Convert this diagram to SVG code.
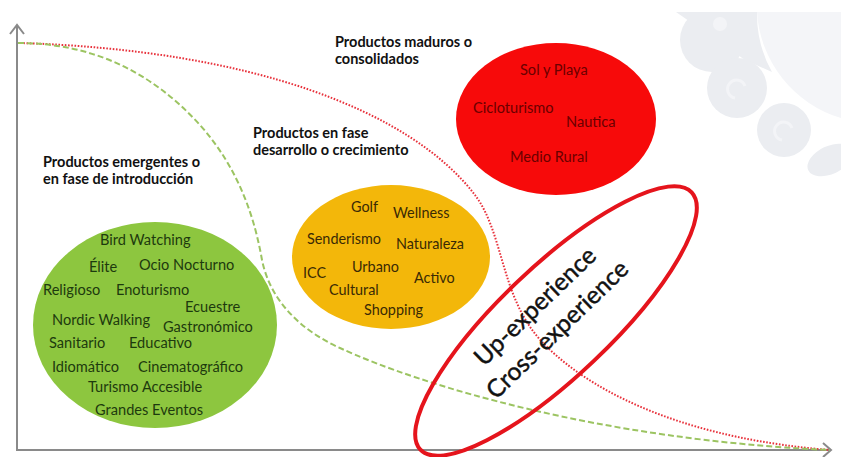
<svg xmlns="http://www.w3.org/2000/svg" width="841" height="457" viewBox="0 0 841 457">
<defs>
<style>
text{font-family:Lato,"Open Sans","Liberation Sans",sans-serif}
.title{font-size:14.5px;font-weight:bold;fill:#111}
.tg{font-size:14.6px;fill:#1d3a0e}
.to{font-size:14.4px;fill:#3a2a05}
.tr{font-size:14.6px;fill:#6a0000}
.axis{stroke:#8a8a8a;stroke-width:2;fill:none}
.wm{fill:#ebedf1}
.exp{font-size:24.5px;fill:#111;stroke:#111;stroke-width:0.45}
</style>
<clipPath id="wmclip"><rect x="660" y="12" width="181" height="190"/></clipPath>
</defs>
<rect width="841" height="457" fill="#fff"/>
<g id="watermark" clip-path="url(#wmclip)">
<path d="M757,12 A118 118 0 0 0 841,118 L841,12 Z" fill="#f4f5f8"/>
<path d="M676,12 L757,12 A118 118 0 0 0 772,72 L745,60 Z" class="wm"/>
<circle class="wm" cx="712" cy="40" r="32"/>
<circle class="wm" cx="737" cy="88" r="30"/>
<circle class="wm" cx="784" cy="130" r="27"/>
<ellipse class="wm" cx="830" cy="160" rx="24" ry="14" transform="rotate(-25 830 160)"/>
<circle cx="720" cy="24" r="7" fill="#f3f4f7"/>
<path d="M735,98 a9 9 0 1 1 10,-12" fill="none" stroke="#f3f4f7" stroke-width="3"/>
<path d="M782,140 a9 9 0 1 1 10,-12" fill="none" stroke="#f3f4f7" stroke-width="3"/>
</g>
<g id="connectors">
<line class="axis" x1="17" y1="451" x2="17" y2="25"/>
<polyline class="axis" points="10,34 17,25 24,34"/>
<line class="axis" x1="16" y1="450" x2="830" y2="450"/>
<polyline class="axis" points="823,443 831,450 823,457"/>
<path d="M20,43 C250,50 410,110 475,195 C505,235 500,300 545,345 C600,400 700,440 830,450" fill="none" stroke="#e8323c" stroke-width="2" stroke-dasharray="1.6 1.6"/>
<path d="M18,43 C90,43 150,70 200,125 C240,170 255,220 262,260 C270,300 300,330 340,348 C420,385 600,440 830,450" fill="none" stroke="#9cc462" stroke-width="2" stroke-dasharray="6 3"/>
</g>
<g id="label-emergentes">
<text class="title" x="43" y="167">Productos emergentes o</text>
<text class="title" x="43" y="184">en fase de introducción</text>
</g>
<g id="label-desarrollo">
<text class="title" x="253" y="138">Productos en fase</text>
<text class="title" x="253" y="155">desarrollo o crecimiento</text>
</g>
<g id="label-maduros">
<text class="title" x="335" y="47">Productos maduros o</text>
<text class="title" x="335" y="64">consolidados</text>
</g>
<g id="node-emergentes">
<ellipse cx="155" cy="325" rx="122" ry="103" fill="#8dc63f"/>
<text class="tg" x="100" y="245">Bird Watching</text>
<text class="tg" x="89" y="272">Élite</text>
<text class="tg" x="139" y="270">Ocio Nocturno</text>
<text class="tg" x="43" y="295">Religioso</text>
<text class="tg" x="116" y="295">Enoturismo</text>
<text class="tg" x="185" y="312">Ecuestre</text>
<text class="tg" x="52" y="325">Nordic Walking</text>
<text class="tg" x="163" y="332">Gastronómico</text>
<text class="tg" x="49" y="348">Sanitario</text>
<text class="tg" x="129" y="348">Educativo</text>
<text class="tg" x="52" y="372">Idiomático</text>
<text class="tg" x="138" y="372">Cinematográfico</text>
<text class="tg" x="88" y="392">Turismo Accesible</text>
<text class="tg" x="95" y="415">Grandes Eventos</text>
</g>
<g id="node-desarrollo">
<ellipse cx="391" cy="257" rx="99" ry="72" fill="#f3b70a"/>
<text class="to" x="351" y="212">Golf</text>
<text class="to" x="393" y="218">Wellness</text>
<text class="to" x="307" y="244">Senderismo</text>
<text class="to" x="396" y="249">Naturaleza</text>
<text class="to" x="303" y="278">ICC</text>
<text class="to" x="352" y="272">Urbano</text>
<text class="to" x="414" y="283">Activo</text>
<text class="to" x="329" y="295">Cultural</text>
<text class="to" x="364" y="315">Shopping</text>
</g>
<g id="node-maduros">
<ellipse cx="556" cy="119" rx="100" ry="76" fill="#f70a0a"/>
<text class="tr" x="520" y="75">Sol y Playa</text>
<text class="tr" x="473" y="113">Cicloturismo</text>
<text class="tr" x="566" y="127">Nautica</text>
<text class="tr" x="510" y="162">Medio Rural</text>
</g>
<g id="node-experience">
<ellipse cx="556" cy="321" rx="187" ry="55" transform="rotate(-43.5 556 321)" fill="none" stroke="#e5141c" stroke-width="4"/>
<g transform="translate(552,324) rotate(-44)">
<text class="exp" x="0" y="-16" text-anchor="middle">Up-experience</text>
<text class="exp" x="0" y="16" text-anchor="middle">Cross-experience</text>
</g>
</g>
</svg>
